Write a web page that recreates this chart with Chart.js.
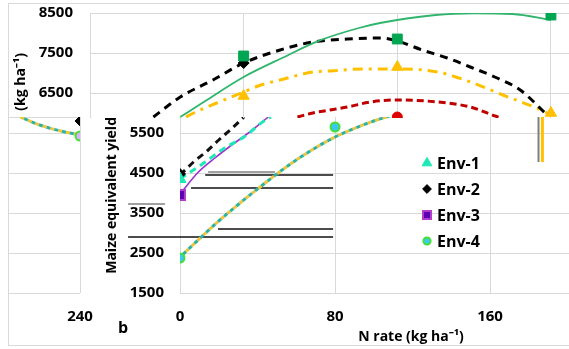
<!DOCTYPE html>
<html>
<head>
<meta charset="utf-8">
<title>Maize equivalent yield vs N rate</title>
<script src="https://cdn.jsdelivr.net/npm/chart.js@4.4.1/dist/chart.umd.min.js"></script>
<style>
  html, body { margin: 0; padding: 0; background: #fff; }
  body { position: relative; width: 569px; height: 349px; overflow: hidden; }
  #frame { position: absolute; left: 8px; top: 3px; width: 620px; height: 341px; border: 1px solid #d9d9d9; border-right: none; }
  canvas { position: absolute; }
  #chartA { left: 0; top: 0; }
  #chartB { left: 100px; top: 117px; }
  #chartC { left: 0; top: 117px; }
</style>
</head>
<body>
<div id="frame"></div>
<canvas id="chartC" width="100" height="232"></canvas>
<canvas id="chartB" width="542" height="232"></canvas>
<canvas id="chartA" width="569" height="118"></canvas>
<script>
// N rates (kg ha-1)
const nRates = [0, 80, 160, 240];

// panel a - fitted response curves
const aGreenN = [47, 60, 80, 100, 120, 140, 151, 180, 200, 220, 240];
const aGreen  = [5900, 6300, 6900, 7375, 7820, 8125, 8250, 8450, 8490, 8475, 8325];
const aBlackN = [33, 47, 64, 80, 99, 116, 134, 151, 160, 173, 186, 198, 212, 224, 238];
const aBlack  = [5900, 6400, 6825, 7250, 7575, 7775, 7850, 7875, 7800, 7575, 7375, 7150, 6875, 6575, 5950];
const aGoldN  = [50, 54, 66, 80, 89, 99, 116, 125, 142, 151, 160, 181, 198, 215, 236, 240];
const aGold   = [5900, 6000, 6250, 6525, 6700, 6825, 7025, 7050, 7100, 7100, 7100, 7025, 6775, 6450, 6050, 5950];
const aRedN   = [108, 116, 125, 134, 146, 160, 181, 198, 211, 214];
const aRed    = [5900, 6000, 6075, 6150, 6275, 6325, 6275, 6150, 5925, 5875];

// panel a - observed means
const aGreenObs = [7425, 7850, 8450];   // N 80, 160, 240
const aBlackObs = [7250];               // N 80
const aGoldObs  = [6425, 7150, 6000];   // N 80, 160, 240
const aRedObs   = [5900];               // N 160

// panel b - fitted response curves
const env1N = [0, 13, 23, 33, 44, 47];
const env1  = [4350, 4775, 5125, 5400, 5825, 5900];
const env2N = [0, 7, 14, 20, 27, 33];
const env2  = [4450, 4775, 5050, 5325, 5625, 5900];
const env3N = [0, 9.5, 18, 26.7, 35.3, 45.6];
const env3  = [3975, 4525, 4875, 5200, 5500, 5900];
const env4N = [0, 20, 40, 60, 80, 100, 110];
const env4  = [2400, 3300, 4100, 4825, 5400, 5800, 5950];

// panel b - observed means
const env1Obs = [4350];         // N 0
const env2Obs = [4475];         // N 0
const env3Obs = [3950];         // N 0
const env4Obs = [2375, 5650];   // N 0, 80

// panel b - stray rules and bar
const ruleLevel = [4450, 4525, 4125, 3100, 2900, 3725];
const ruleFrom  = [13, 14.5, 5.7, 19.6, -26.8, -26.8];
const ruleTo    = [79, 49, 79, 79, 79, -7.7];
const barN = [185, 187];
const barSpan = [5900, 4775];

// left strip - tail of the previous panel
const tailN = [209, 219, 230, 240];
const tail  = [5900, 5700, 5550, 5450];
const tailEnv4Obs = [5425];
const tailEnv2Obs = [5800];

const aTicks = [6500, 7500, 8500];
const bTicks = [1500, 2500, 3500, 4500, 5500];
const cTicks = [1500, 2500, 3500, 4500, 5500, 5900];
const bNTicks = [0, 80, 160];
const cNTicks = [240];

const gridColor = '#d9d9d9';
const tickFont = { family: 'Open Sans', size: 15, weight: 'bold' };
const titleFont = { family: 'Open Sans', size: 14, weight: 'bold' };
const plain = v => String(v);

const pts = (xs, ys) => xs.map((x, i) => ({ x: x, y: ys[i] }));

function curve(xs, ys, color, width, dash, offset) {
    return {
        data: pts(xs, ys),
        borderColor: color,
        borderWidth: width,
        borderDash: dash || [],
        borderDashOffset: offset || 0,
        pointRadius: 0,
        cubicInterpolationMode: 'monotone',
        fill: false
    };
}

function marks(label, xs, ys, style, radius, fill, edge) {
    return {
        label: label,
        data: pts(xs, ys),
        showLine: false,
        pointStyle: style,
        pointRadius: radius,
        pointBackgroundColor: fill,
        pointBorderColor: edge || fill,
        pointBorderWidth: edge ? 2 : 1
    };
}

function rule(x0, x1, y0, y1, color, width) {
    return {
        data: [{ x: x0, y: y0 }, { x: x1, y: y1 }],
        borderColor: color,
        borderWidth: width,
        pointRadius: 0,
        clip: false
    };
}

const setTicks = list => axis => { axis.ticks = list.map(v => ({ value: v })); };

// legend drawn inside the plot area
const insideLegend = {
    id: 'insideLegend',
    afterDatasetsDraw(chart, args, opts) {
        const { ctx, chartArea } = chart;
        const items = chart.data.datasets.filter(d => d.label);
        ctx.save();
        items.forEach((d, i) => {
            const x = chartArea.left + opts.x;
            const y = chartArea.top + opts.y + i * opts.gap;
            ctx.fillStyle = d.pointBackgroundColor;
            ctx.strokeStyle = d.pointBorderColor;
            ctx.lineWidth = d.pointBorderWidth;
            Chart.helpers.drawPoint(ctx, {
                pointStyle: d.pointStyle,
                radius: d.pointRadius * 0.8,
                rotation: 0,
                borderWidth: d.pointBorderWidth
            }, x, y);
            ctx.fillStyle = '#000';
            ctx.font = opts.font;
            ctx.textAlign = 'left';
            ctx.textBaseline = 'middle';
            ctx.fillText(d.label, x + opts.textGap, y + 1);
        });
        // panel tag
        ctx.font = opts.font;
        ctx.textAlign = 'center';
        ctx.fillText('b', chartArea.left - 57, chartArea.bottom + 35);
        ctx.restore();
    }
};

// Panel a (upper)
new Chart(document.getElementById('chartA'), {
    type: 'line',
    data: {
        datasets: [
            marks(null, nRates.slice(1), aGreenObs, 'rect', 7, '#00a651'),
            marks(null, [80], aBlackObs, 'rectRot', 5.5, '#000'),
            marks(null, nRates.slice(1), aGoldObs, 'triangle', 6.5, '#ffc000'),
            marks(null, [160], aRedObs, 'circle', 5, '#e00000'),
            curve(aGreenN, aGreen, '#2fb56c', 1.8),
            curve(aBlackN, aBlack, '#000', 3, [8, 6]),
            curve(aGoldN, aGold, '#ffc000', 3, [10, 6, 3, 6]),
            curve(aRedN, aRed, '#c00000', 3, [7, 4])
        ]
    },
    options: {
        responsive: false,
        animation: false,
        layout: { padding: { top: 13 }, autoPadding: false },
        plugins: { legend: { display: false }, tooltip: { enabled: false } },
        scales: {
            x: {
                type: 'linear', min: 0, max: 249.4,
                afterBuildTicks: setTicks(nRates),
                ticks: { display: false },
                grid: { color: gridColor, drawTicks: false },
                border: { display: false },
                afterFit: s => { s.height = 0; s.paddingLeft = 0; s.paddingRight = 0; }
            },
            y: {
                min: 5875, max: 8500,
                afterBuildTicks: setTicks(aTicks),
                ticks: { font: tickFont, color: '#000', padding: 17, callback: plain },
                grid: { color: gridColor, drawTicks: false },
                border: { display: false },
                title: { display: true, text: '  (kg ha⁻¹)', align: 'start', font: titleFont, color: '#000', padding: { top: 13, bottom: 0 } },
                afterFit: s => { s.width = 90; s.paddingTop = 0; s.paddingBottom = 0; }
            }
        }
    }
});

// Panel b (lower)
new Chart(document.getElementById('chartB'), {
    type: 'line',
    data: {
        datasets: [
            marks('Env-1', [0], env1Obs, 'triangle', 7, '#1de9b6'),
            marks('Env-2', [0], env2Obs, 'rectRot', 5.5, '#000'),
            marks('Env-3', [0], env3Obs, 'rect', 7, '#5a00b4', '#b23cc8'),
            marks('Env-4', [0, 80], env4Obs, 'circle', 4.5, '#3cc8f0', '#44e034'),
            curve(env1N, env1, '#1de9b6', 3, [7, 5]),
            curve(env2N, env2, '#111', 3, [7, 5]),
            curve(env3N, env3, '#9933cc', 1.6),
            curve(env4N, env4, '#2bb3a0', 3, [4, 4], 4),
            curve(env4N, env4, '#f0c53c', 3, [4, 4]),
            ...ruleLevel.map((v, i) => rule(ruleFrom[i], ruleTo[i], v, v, (i === 1 || i === 5) ? '#808080' : '#111', 1.5)),
            rule(barN[0], barN[0], barSpan[0], barSpan[1], '#7f7f7f', 2),
            rule(barN[1], barN[1], barSpan[0], barSpan[1], '#ffc000', 3)
        ]
    },
    options: {
        responsive: false,
        animation: false,
        layout: { padding: 0, autoPadding: false },
        plugins: {
            legend: { display: false },
            tooltip: { enabled: false },
            insideLegend: { x: 247, y: 46, gap: 26, textGap: 10, font: 'bold 16px "Open Sans"' }
        },
        scales: {
            x: {
                type: 'linear', min: 0, max: 238.4,
                afterBuildTicks: setTicks(bNTicks),
                ticks: { font: tickFont, color: '#000', padding: 15, callback: plain },
                grid: { color: gridColor, drawTicks: false },
                border: { display: false },
                title: { display: true, text: 'N rate (kg ha⁻¹)', font: titleFont, color: '#000' },
                afterFit: s => { s.height = 56; s.paddingLeft = 0; s.paddingRight = 0; }
            },
            y: {
                min: 1500, max: 5900,
                afterBuildTicks: setTicks(bTicks),
                ticks: { font: tickFont, color: '#000', padding: 16, callback: plain },
                grid: { color: gridColor, drawTicks: false },
                border: { display: false },
                title: { display: true, text: 'Maize equivalent yield', align: 'end', font: titleFont, color: '#000' },
                afterFit: s => { s.width = 80; s.paddingTop = 0; s.paddingBottom = 0; }
            }
        }
    },
    plugins: [insideLegend]
});

// left strip, end of the previous panel
new Chart(document.getElementById('chartC'), {
    type: 'line',
    data: {
        datasets: [
            marks(null, [240], tailEnv2Obs, 'rectRot', 5, '#000'),
            marks(null, [240], tailEnv4Obs, 'circle', 4.5, '#d9b3ff', '#44e034'),
            curve(tailN, tail, '#2bb3a0', 3, [4, 4], 4),
            curve(tailN, tail, '#f0c53c', 3, [4, 4])
        ]
    },
    options: {
        responsive: false,
        animation: false,
        layout: { padding: { right: 20 }, autoPadding: false },
        plugins: { legend: { display: false }, tooltip: { enabled: false } },
        scales: {
            x: {
                type: 'linear', min: 202.5, max: 240,
                afterBuildTicks: setTicks(cNTicks),
                ticks: { font: tickFont, color: '#000', padding: 15, callback: plain },
                grid: { color: gridColor, drawTicks: false },
                border: { display: false },
                afterFit: s => { s.height = 56; s.paddingLeft = 0; s.paddingRight = 0; }
            },
            y: {
                min: 1500, max: 5900,
                afterBuildTicks: setTicks(cTicks),
                ticks: { display: false },
                grid: { color: gridColor, drawTicks: false },
                border: { display: false },
                afterFit: s => { s.width = 8; s.paddingTop = 0; s.paddingBottom = 0; }
            }
        }
    }
});
</script>
</body>
</html>
